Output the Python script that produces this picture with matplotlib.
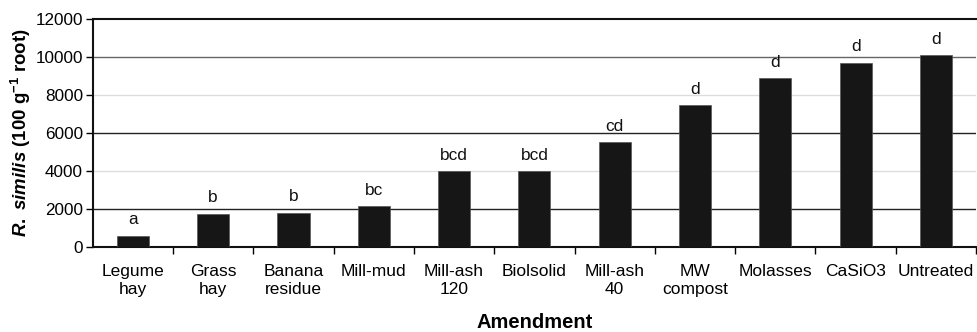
import matplotlib
matplotlib.use("Agg")
import matplotlib.pyplot as plt
import numpy as np

# Amendment categories and nematode counts
categories = ["Legume\nhay", "Grass\nhay", "Banana\nresidue", "Mill-mud",
              "Mill-ash\n120", "Biolsolid", "Mill-ash\n40", "MW\ncompost",
              "Molasses", "CaSiO3", "Untreated"]
counts = [600, 1750, 1800, 2150, 4000, 4000, 5500, 7450, 8900, 9700, 10100]
letters = ["a", "b", "b", "bc", "bcd", "bcd", "cd", "d", "d", "d", "d"]
y_ticks = [0, 2000, 4000, 6000, 8000, 10000, 12000]

plt.rcParams["font.family"] = ["Liberation Sans", "DejaVu Sans"]
plt.rcParams["mathtext.fontset"] = "custom"
plt.rcParams["mathtext.rm"] = "Liberation Sans:bold"
plt.rcParams["mathtext.bf"] = "Liberation Sans:bold"
plt.rcParams["mathtext.it"] = "Liberation Sans:bold:italic"
plt.rcParams["mathtext.bfit"] = "Liberation Sans:bold:italic"

fig = plt.figure(figsize=(9.77, 3.32), dpi=100)
ax = fig.add_axes([0.0949, 0.256, 0.9041, 0.687])

x = np.arange(len(categories))
bars = ax.bar(x, counts, width=0.4, color="#161616", edgecolor="#555555",
              linewidth=0.5, zorder=3)

for xi, v, lab in zip(x, counts, letters):
    ax.annotate(lab, (xi, v), xytext=(0, 6), textcoords="offset points",
                ha="center", va="bottom", fontsize=12.4, color="#111111")

ax.set_xlim(-0.5, len(categories) - 0.5)
ax.set_ylim(0, 12000)
ax.set_yticks(y_ticks)
ax.set_yticklabels([str(t) for t in y_ticks], fontsize=12.3)

ax.set_xticks(x)
ax.set_xticklabels(categories, fontsize=12.5, linespacing=1.3)
ax.set_xticks(np.arange(len(categories)) + 0.5, minor=True)
ax.tick_params(axis="x", which="major", length=0, pad=12)
ax.tick_params(axis="x", which="minor", length=5, width=1, direction="out")
ax.tick_params(axis="y", length=5, width=1, pad=2)

# Horizontal reference lines
grid_colors = {2000: "#222222", 4000: "#dddddd", 6000: "#222222",
               8000: "#dddddd", 10000: "#666666"}
for yv, c in grid_colors.items():
    ax.axhline(yv, color=c, linewidth=1, zorder=1)

for side in ["left", "bottom", "top"]:
    ax.spines[side].set_linewidth(1.5)
    ax.spines[side].set_color("#111111")
ax.spines["right"].set_visible(False)

ax.set_xlabel("Amendment", fontsize=14.5, fontweight="bold")
ax.xaxis.label.set_va("center")
ax.xaxis.set_label_coords(0.5, -0.333)
ax.set_ylabel(r"$\mathit{R.\ similis}$ (100 g$^{-1}$ root)", fontsize=13.4,
              fontweight="bold")
ax.yaxis.label.set_va("center")
ax.yaxis.set_label_coords(-0.081, 0.5)

fig.savefig("out.png", dpi=100)
